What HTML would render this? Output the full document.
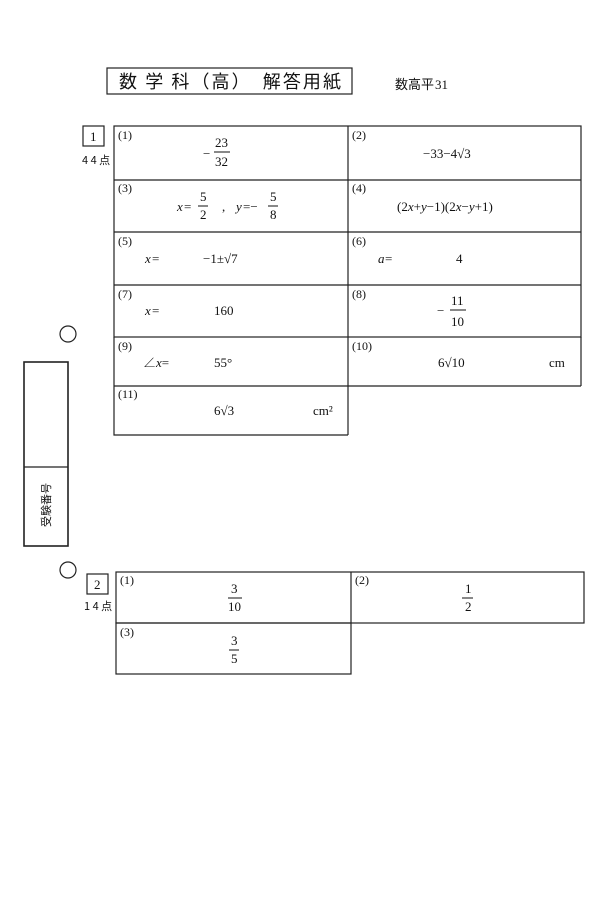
<!DOCTYPE html>
<html><head><meta charset="utf-8"><style>
body{margin:0;background:#fff}
svg text{font-family:"Liberation Serif","Noto Serif CJK SC",serif;fill:#111}
.j{font-family:"Noto Sans CJK JP",sans-serif}
.i{font-style:italic}
</style></head><body>
<svg width="600" height="900" viewBox="0 0 600 900" xmlns="http://www.w3.org/2000/svg">
<g fill="none" stroke="#222" stroke-width="1.2">
<rect x="107" y="68" width="245" height="26"/>
<rect x="83" y="126" width="21" height="20"/>
<rect x="114" y="126" width="467" height="211"/>
<line x1="348" y1="126" x2="348" y2="435"/>
<line x1="114" y1="180" x2="581" y2="180"/>
<line x1="114" y1="232" x2="581" y2="232"/>
<line x1="114" y1="285" x2="581" y2="285"/>
<line x1="114" y1="386" x2="581" y2="386"/>
<polyline points="114,337 114,435 348,435"/>
<line x1="581" y1="337" x2="581" y2="386"/>
<circle cx="68" cy="334" r="8"/>
<circle cx="68" cy="570" r="8"/>
<rect x="24" y="362" width="44" height="184" stroke-width="1.6"/>
<line x1="24" y1="467" x2="68" y2="467"/>
<rect x="87" y="574" width="21" height="20"/>
<rect x="116" y="572" width="468" height="51"/>
<rect x="116" y="623" width="235" height="51"/>
<line x1="351" y1="572" x2="351" y2="623"/>
</g>
<text x="119" y="88" font-size="18" class="j" textLength="222" lengthAdjust="spacing">数 学 科（高）　解答用紙</text>
<text x="395" y="89" font-size="13" class="j">数高平</text><text x="435" y="89" font-size="13">31</text>
<text x="90" y="141" font-size="13">1</text>
<text x="82" y="164" font-size="11" class="j">4 4 点</text>
<text x="94" y="589" font-size="13">2</text>
<text x="84" y="610" font-size="11" class="j">1 4 点</text>
<text x="46" y="509" font-size="11" class="j" text-anchor="middle" transform="rotate(-90 46 505)">受験番号</text>
<g font-size="12">
<text x="118" y="139">(1)</text><text x="352" y="139">(2)</text>
<text x="118" y="192">(3)</text><text x="352" y="192">(4)</text>
<text x="118" y="245">(5)</text><text x="352" y="245">(6)</text>
<text x="118" y="298">(7)</text><text x="352" y="298">(8)</text>
<text x="118" y="350">(9)</text><text x="352" y="350">(10)</text>
<text x="118" y="398">(11)</text>
<text x="120" y="584">(1)</text><text x="355" y="584">(2)</text>
<text x="120" y="636">(3)</text>
</g>
<g font-size="13">
<text x="203" y="158">−</text><text x="215" y="147">23</text><line x1="214" y1="152" x2="230" y2="152" stroke="#111"/><text x="215" y="166">32</text>
<text x="423" y="158">−33−4√3</text>
<text x="177" y="211" class="i">x</text><text x="184" y="211">=</text><text x="200" y="201">5</text><line x1="198" y1="206" x2="208" y2="206" stroke="#111"/><text x="200" y="219">2</text>
<text x="222" y="211">,  </text><text x="236" y="211" class="i">y</text><text x="243" y="211">=−</text><text x="270" y="201">5</text><line x1="268" y1="206" x2="278" y2="206" stroke="#111"/><text x="270" y="219">8</text>
<text x="397" y="211">(2<tspan class="i">x</tspan>+<tspan class="i">y</tspan>−1)(2<tspan class="i">x</tspan>−<tspan class="i">y</tspan>+1)</text>
<text x="145" y="263" class="i">x</text><text x="152" y="263">=</text><text x="203" y="263">−1±√7</text>
<text x="378" y="263" class="i">a</text><text x="385" y="263">=</text><text x="456" y="263">4</text>
<text x="145" y="315" class="i">x</text><text x="152" y="315">=</text><text x="214" y="315">160</text>
<text x="437" y="315">−</text><text x="451" y="305">11</text><line x1="450" y1="310" x2="466" y2="310" stroke="#111"/><text x="451" y="326">10</text>
<text x="143" y="367">∠<tspan class="i">x</tspan>=</text><text x="214" y="367">55°</text>
<text x="438" y="367">6√10</text><text x="549" y="367">cm</text>
<text x="214" y="415">6√3</text><text x="313" y="415">cm²</text>
<text x="231" y="593">3</text><line x1="228" y1="598" x2="242" y2="598" stroke="#111"/><text x="228" y="611">10</text>
<text x="465" y="593">1</text><line x1="462" y1="598" x2="473" y2="598" stroke="#111"/><text x="465" y="611">2</text>
<text x="231" y="645">3</text><line x1="229" y1="650" x2="239" y2="650" stroke="#111"/><text x="231" y="663">5</text>
</g>
</svg>
</body></html>
